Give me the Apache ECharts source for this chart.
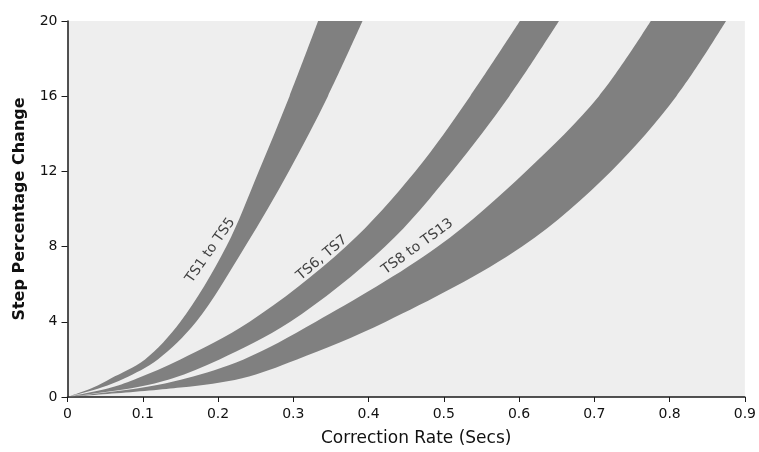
<!DOCTYPE html>
<html>
<head>
<meta charset="utf-8">
<script src="https://cdn.jsdelivr.net/npm/echarts@6/dist/echarts.min.js"></script>
<style>html,body{margin:0;padding:0;background:#fff}#c{width:759px;height:452px}</style>
</head>
<body>
<div id="c"></div>
<script>
// Step percentage levels at which band edges were read
var yLevels = [0, 0.5, 1, 2, 4, 8, 12, 16, 20];
// Correction rate (secs) of each band edge at those levels
var ts1to5Left  = [0, 0.034, 0.058, 0.103, 0.150, 0.211, 0.254, 0.295, 0.333];
var ts1to5Right = [0, 0.045, 0.076, 0.120, 0.171, 0.236, 0.294, 0.346, 0.392];
var ts6to7Left  = [0, 0.058, 0.093, 0.150, 0.242, 0.370, 0.462, 0.535, 0.601];
var ts6to7Right = [0, 0.090, 0.140, 0.202, 0.296, 0.422, 0.511, 0.587, 0.653];
var ts8to13Left  = [0, 0.100, 0.158, 0.234, 0.330, 0.492, 0.609, 0.706, 0.775];
var ts8to13Right = [0, 0.150, 0.232, 0.305, 0.423, 0.604, 0.722, 0.809, 0.875];
// Band labels: text, x, y (data units), rotation
var labelTexts = ['TS1 to TS5', 'TS6, TS7', 'TS8 to TS13'];
var labelX = [0.190, 0.338, 0.465];
var labelY = [7.8, 7.4, 8.0];
var labelRot = [55, 40, 36];
var xTicks = [0, 0.1, 0.2, 0.3, 0.4, 0.5, 0.6, 0.7, 0.8, 0.9];
var yTicks = [0, 4, 8, 12, 16, 20];

var FONT = '"DejaVu Sans"';
var chart = echarts.init(document.getElementById('c'), null, {renderer: 'canvas'});

// centripetal Catmull-Rom through pixel points, as bezier segments
function spline(pts) {
  var d = '', a = 0.5;
  function dist(p, q) { return Math.sqrt((p[0]-q[0])*(p[0]-q[0]) + (p[1]-q[1])*(p[1]-q[1])); }
  for (var i = 0; i < pts.length - 1; i++) {
    var p0 = pts[i - 1] || pts[i], p1 = pts[i], p2 = pts[i + 1], p3 = pts[i + 2] || pts[i + 1];
    var d1 = Math.pow(dist(p0, p1), a), d2 = Math.pow(dist(p1, p2), a), d3 = Math.pow(dist(p2, p3), a);
    var c1 = p1.slice(), c2 = p2.slice();
    if (d1 > 1e-6) {
      var A = 2 * d1 * d1 + 3 * d1 * d2 + d2 * d2, n = 3 * d1 * (d1 + d2);
      c1 = [(p2[0] * d1 * d1 - p0[0] * d2 * d2 + p1[0] * A) / n,
            (p2[1] * d1 * d1 - p0[1] * d2 * d2 + p1[1] * A) / n];
    }
    if (d3 > 1e-6) {
      var B = 2 * d3 * d3 + 3 * d3 * d2 + d2 * d2, m = 3 * d3 * (d3 + d2);
      c2 = [(p1[0] * d3 * d3 - p3[0] * d2 * d2 + p2[0] * B) / m,
            (p1[1] * d3 * d3 - p3[1] * d2 * d2 + p2[1] * B) / m];
    }
    d += ' C' + c1[0] + ' ' + c1[1] + ' ' + c2[0] + ' ' + c2[1] + ' ' + p2[0] + ' ' + p2[1];
  }
  return d;
}

function bandSeries(leftArr, rightArr) {
  return {
    type: 'custom',
    coordinateSystem: 'cartesian2d',
    data: [[0, 0]],
    silent: true,
    clip: true,
    renderItem: function (params, api) {
      var L = yLevels.map(function (y, i) { return api.coord([leftArr[i], y]); });
      var R = yLevels.map(function (y, i) { return api.coord([rightArr[i], y]); }).reverse();
      var d = 'M' + L[0][0] + ' ' + L[0][1] + spline(L) +
              ' L' + R[0][0] + ' ' + R[0][1] + spline(R) + ' Z';
      return {
        type: 'path',
        shape: {pathData: d},
        style: {fill: '#808080', stroke: null}
      };
    }
  };
}

var labelData = labelTexts.map(function (t, i) {
  return {
    value: [labelX[i], labelY[i], t],
    label: {rotate: labelRot[i]}
  };
});

chart.setOption({
  animation: false,
  grid: {left: 67.5, right: 11.5, top: 21, bottom: 53, show: true, backgroundColor: '#eeeeee', borderWidth: 0},
  xAxis: {
    type: 'value', min: xTicks[0], max: xTicks[xTicks.length - 1], interval: 0.1,
    name: 'Correction Rate (Secs)', nameLocation: 'middle', nameGap: 33,
    nameTextStyle: {fontFamily: FONT, fontSize: 17, color: '#111', padding: [0, 0, 0, 20]},
    axisLine: {show: true, onZero: false, lineStyle: {color: '#1a1a1a', width: 1.5}},
    axisTick: {show: true, length: 5, lineStyle: {color: '#1a1a1a', width: 1}},
    axisLabel: {fontFamily: FONT, fontSize: 14, color: '#111', margin: 10},
    splitLine: {show: false}
  },
  yAxis: {
    type: 'value', min: yTicks[0], max: yTicks[yTicks.length - 1], interval: 4,
    name: 'Step Percentage Change', nameLocation: 'middle', nameGap: 40,
    nameTextStyle: {fontFamily: FONT, fontSize: 16, fontWeight: 'bold', color: '#111'},
    axisLine: {show: true, onZero: false, lineStyle: {color: '#1a1a1a', width: 1.5}},
    axisTick: {show: true, length: 6, lineStyle: {color: '#1a1a1a', width: 1}},
    axisLabel: {fontFamily: FONT, fontSize: 14, color: '#111', margin: 10},
    splitLine: {show: false}
  },
  series: [
    bandSeries(ts1to5Left, ts1to5Right),
    bandSeries(ts6to7Left, ts6to7Right),
    bandSeries(ts8to13Left, ts8to13Right),
    {
      type: 'scatter', symbolSize: 0, silent: true,
      data: labelData,
      label: {show: true, position: 'inside', fontFamily: FONT, fontSize: 14, color: '#111',
        formatter: function (p) { return p.value[2]; }}
    }
  ]
});
</script>
</body>
</html>
